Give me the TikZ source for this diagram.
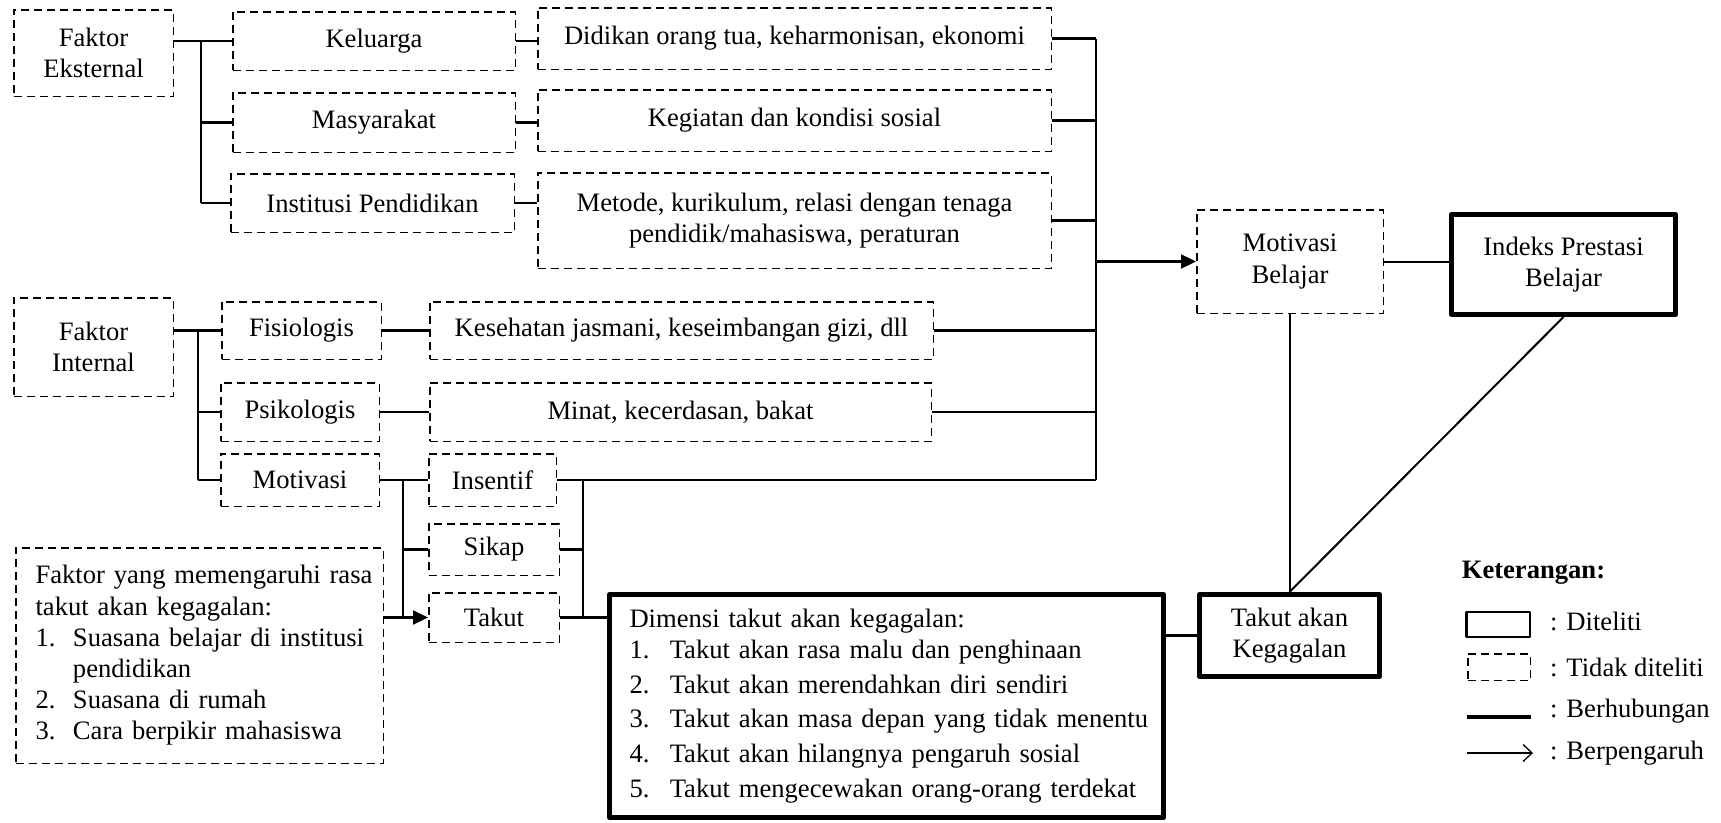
\documentclass[tikz,border=0pt]{standalone}
\usepackage{fontspec}
\setmainfont{Liberation Serif}
\usetikzlibrary{arrows.meta}
\begin{document}
\begin{tikzpicture}[x=1pt,y=-1pt,
  every node/.style={font=\fontsize{26.6}{31.2}\selectfont, inner sep=0pt},
  dbox/.style={draw, line width=1.5pt, dash pattern=on 8pt off 5pt, align=center},
  tbox/.style={draw, line width=5pt, line join=round, align=center},
  conn/.style={line width=2.2pt},
  slim/.style={line width=2pt},
  arr/.style={conn, -{Triangle[length=15pt,width=14pt]}},
]
\useasboundingbox (0,0) rectangle (1721,822);

% ---- external factors
\node[dbox, minimum width=159.5pt, minimum height=86.5pt] (FE) at (93.5,53) {Faktor\\Eksternal};
\node[dbox, minimum width=282.5pt, minimum height=58.5pt] (K) at (374,41) {Keluarga};
\node[dbox, minimum width=282.5pt, minimum height=59.5pt] (M) at (374,122.5) {Masyarakat};
\node[dbox, minimum width=283.5pt, minimum height=58.5pt] (I) at (372.5,203) {Institusi Pendidikan};
\node[dbox, minimum width=513.5pt, minimum height=61.5pt] (D) at (794.5,38.5) {Didikan orang tua, keharmonisan, ekonomi};
\node[dbox, minimum width=513.5pt, minimum height=61.5pt] (Keg) at (794.5,120.5) {Kegiatan dan kondisi sosial};
\node[dbox, minimum width=513.5pt, minimum height=95.5pt] (Met) at (794.5,220.5) {Metode, kurikulum, relasi dengan tenaga\\pendidik/mahasiswa, peraturan};

% ---- outcome boxes
\node[dbox, minimum width=186.5pt, minimum height=103.5pt] (MB) at (1290,261.5) {Motivasi\\Belajar};
\node[tbox, minimum width=224pt, minimum height=100pt] (IPB) at (1563.5,264.5) {Indeks Prestasi\\Belajar};

% ---- internal factors
\node[dbox, minimum width=159.5pt, minimum height=98.5pt] (FI) at (93.5,347) {Faktor\\Internal};
\node[dbox, minimum width=159.5pt, minimum height=57.5pt] (Fis) at (301.5,330.5) {Fisiologis};
\node[dbox, minimum width=158.5pt, minimum height=58.5pt] (Psi) at (300,412) {Psikologis};
\node[dbox, minimum width=158.5pt, minimum height=52.5pt] (Mot) at (300,480) {Motivasi};
\node[dbox, minimum width=503.5pt, minimum height=57.5pt] (Kes) at (681.5,330.5) {Kesehatan jasmani, keseimbangan gizi, dll};
\node[dbox, minimum width=501.5pt, minimum height=58.5pt] (Min) at (680.5,412) {Minat, kecerdasan, bakat};
\node[dbox, minimum width=127.5pt, minimum height=52.5pt] (Ins) at (492.5,480) {Insentif};
\node[dbox, minimum width=130.5pt, minimum height=51.5pt] (Sik) at (494,549.5) {Sikap};
\node[dbox, minimum width=130.5pt, minimum height=49.5pt] (Tak) at (494,617.5) {Takut};

% ---- factor box
\node[dbox, align=left, text width=327.8pt, inner xsep=19.85pt, minimum height=215.5pt] (FY) at (199.5,655.5)
 {\makebox[327.8pt][s]{Faktor yang memengaruhi rasa}\\
  takut akan kegagalan:\\
  \makebox[37.4pt][l]{1.}\makebox[290.4pt][s]{Suasana belajar di institusi}\\
  \hspace*{37.4pt}pendidikan\\
  \makebox[37.4pt][l]{2.}Suasana di rumah\\
  \makebox[37.4pt][l]{3.}Cara berpikir mahasiswa};

% ---- dimension box
\node[tbox, align=left, text width=514pt, inner xsep=20pt, minimum height=223pt] (Dim) at (886.5,706)
 {\mbox{Dimensi takut akan kegagalan:}\\
  \mbox{\makebox[40.3pt][l]{1.}Takut akan rasa malu dan penghinaan}\\[3.5pt]
  \mbox{\makebox[40.3pt][l]{2.}Takut akan merendahkan diri sendiri}\\[3.5pt]
  \mbox{\makebox[40.3pt][l]{3.}Takut akan masa depan yang tidak menentu}\\[3.5pt]
  \mbox{\makebox[40.3pt][l]{4.}Takut akan hilangnya pengaruh sosial}\\[3.5pt]
  \mbox{\makebox[40.3pt][l]{5.}Takut mengecewakan orang-orang terdekat}};

\node[tbox, minimum width=180pt, minimum height=82pt] (TaK) at (1289.5,635.5) {Takut akan\\Kegagalan};

% ---- trunk coordinates
\coordinate (tE) at (201,0);
\coordinate (tR) at (1096,0);
\coordinate (tI) at (197.7,0);
\coordinate (tS) at (403.3,0);
\coordinate (tS2) at (583.3,0);

% ---- external tree
\draw[conn] (FE.east |- K.west) -- (K.west);
\draw[conn] (tE |- K.west) -- (tE |- I.west);
\draw[conn] (tE |- M.west) -- (M.west);
\draw[conn] (tE |- I.west) -- (I.west);
\draw[conn] (K.east) -- (K.east -| D.west);
\draw[conn] (M.east) -- (M.east -| Keg.west);
\draw[conn] (I.east) -- (I.east -| Met.west);

% ---- right trunk
\draw[conn] (D.east) -- (D.east -| tR);
\draw[conn] (Keg.east) -- (Keg.east -| tR);
\draw[conn] (Met.east) -- (Met.east -| tR);
\draw[conn] (Kes.east) -- (Kes.east -| tR);
\draw[conn] (Min.east) -- (Min.east -| tR);
\draw[conn] (Ins.east) -- (Ins.east -| tR);
\draw[conn] (tR |- D.east) -- (tR |- Ins.east);
\draw[arr] (tR |- MB.west) -- (MB.west);

% ---- internal tree
\draw[conn] (FI.east |- Fis.west) -- (Fis.west);
\draw[conn] (tI |- Fis.west) -- (tI |- Mot.west);
\draw[conn] (tI |- Psi.west) -- (Psi.west);
\draw[conn] (tI |- Mot.west) -- (Mot.west);
\draw[conn] (Fis.east) -- (Fis.east -| Kes.west);
\draw[conn] (Psi.east) -- (Psi.east -| Min.west);
\draw[conn] (Mot.east) -- (Mot.east -| Ins.west);
\draw[conn] (tS |- Mot.east) -- (tS |- Tak.west);
\draw[conn] (tS |- Sik.west) -- (Sik.west);
\draw[arr] (FY.east |- Tak.west) -- (Tak.west);
\draw[conn] (tS2 |- Ins.east) -- (tS2 |- Tak.east);
\draw[conn] (Sik.east) -- (Sik.east -| tS2);
\draw[conn] (Tak.east) -- (Tak.east -| Dim.west);

% ---- outcome links
\draw[conn] (Dim.east |- TaK.west) -- (TaK.west);
\draw[slim] (MB.east) -- (MB.east -| IPB.west);
\draw[slim] (MB.south) -- (MB.south |- TaK.north);
\draw[slim] (IPB.south) -- (TaK.north);

% ---- legend
\node[font=\fontsize{26.6}{31.2}\selectfont\bfseries, anchor=west] (ket) at (1461.6,573) {Keterangan:};
\node[draw, line width=2.5pt, line join=round, minimum width=63.5pt, minimum height=25pt] (lg1) at (1498,624.5) {};
\node[anchor=west] (lt1) at (1550,621) {: Diteliti};
\node[dbox, minimum width=62.5pt, minimum height=26.5pt] (lg2) at (1499,667) {};
\node[anchor=west] (lt2) at (1550,667) {: Tidak diteliti};
\coordinate (lg3a) at (1467,717);
\coordinate (lg3b) at (1531,717);
\draw[line width=4pt] (lg3a) -- (lg3b);
\node[anchor=west] (lt3) at (1550,711) {: Berhubungan};
\coordinate (lg4a) at (1467,753);
\coordinate (lg4b) at (1533,753);
\draw[line width=1.3pt, -{Straight Barb[length=9pt,width=17pt]}] (lg4a) -- (lg4b);
\node[anchor=west] (lt4) at (1550,753) {: Berpengaruh};
\end{tikzpicture}
\end{document}
